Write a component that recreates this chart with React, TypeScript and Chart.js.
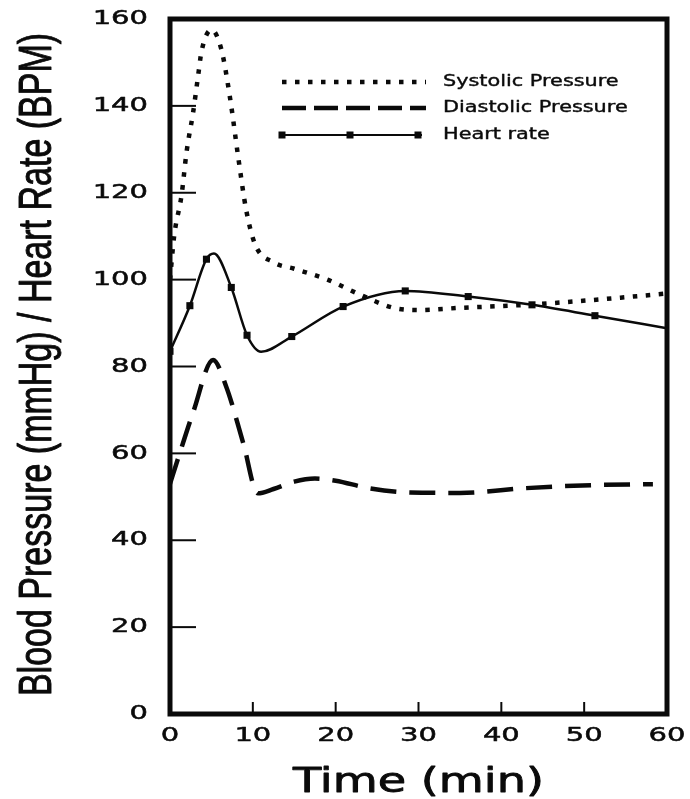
import React, { useEffect, useRef } from "react";
import { Chart, registerables } from "chart.js";

Chart.register(...registerables);

// ---- data ----
const systolicX = [0, 0.5, 1.4, 2.0, 2.8, 3.4, 3.8, 5.0, 6.2, 7.25, 8.25, 9.2, 10.3, 12.5, 15, 19, 23, 27, 30, 35, 43, 51, 60];
const systolicY = [100, 110, 119.5, 129.4, 138.6, 147, 152.5, 157.5, 153, 141.8, 128, 116, 108, 104, 102.5, 100, 96.5, 93.5, 93, 93.5, 94.2, 95.3, 96.8];

const diastolicX = [0, 1.0, 2.8, 5.2, 6.8, 8.85, 10.6, 12.5, 15, 17.5, 20, 24, 29, 35, 43, 51, 58.3];
const diastolicY = [53, 59, 69.5, 81.5, 75.3, 62.3, 50.8, 51.8, 53.5, 54.2, 53.7, 52, 51, 50.9, 52, 52.7, 52.9];

const heartX = [0, 2.4, 4.4, 5.3, 7.4, 9.3, 11, 14.7, 20.9, 28.4, 36, 43.7, 51.3, 60];
const heartY = [83.5, 94, 104.7, 106, 98.2, 87.2, 83.4, 86.9, 93.8, 97.4, 96.1, 94.2, 91.7, 88.8];
const heartMarker = [true, true, true, false, true, true, false, true, true, true, true, true, true, false];

const seriesNames = ["Systolic Pressure", "Diastolic Pressure", "Heart rate"];
const xTickValues = [0, 10, 20, 30, 40, 50, 60];
const yTickValues = [0, 20, 40, 60, 80, 100, 120, 140, 160];
const xTitle = "Time (min)";
const yTitle = "Blood Pressure (mmHg) / Heart Rate (BPM)";

const INK = "#0a0a0a";
const SYS_DASH = [4.5, 8.5];
const DIA_DASH = [26, 13];

function zip(xs: number[], ys: number[]) {
  return xs.map((x, i) => ({ x, y: ys[i] }));
}

function heavyText(ctx: any, text: string, x: number, y: number, w: number) {
  ctx.lineWidth = w;
  ctx.setLineDash([]);
  ctx.lineJoin = "round";
  ctx.strokeText(text, x, y);
  ctx.fillText(text, x, y);
}

const decorPlugin = {
  id: "decor",
  afterDraw(chart: any) {
    const { ctx, chartArea } = chart;
    const { left, right, top, bottom } = chartArea;
    const xs = chart.scales.x;
    const ys = chart.scales.y;
    ctx.save();
    ctx.strokeStyle = INK;
    ctx.fillStyle = INK;

    // inward ticks
    ctx.lineWidth = 2;
    ctx.setLineDash([]);
    yTickValues.forEach((v) => {
      if (v === yTickValues[0] || v === yTickValues[yTickValues.length - 1]) return;
      const py = ys.getPixelForValue(v);
      ctx.beginPath();
      ctx.moveTo(left, py);
      ctx.lineTo(left + 26, py);
      ctx.stroke();
    });
    xTickValues.forEach((v) => {
      if (v === xTickValues[0] || v === xTickValues[xTickValues.length - 1]) return;
      const px = xs.getPixelForValue(v);
      ctx.beginPath();
      ctx.moveTo(px, bottom);
      ctx.lineTo(px, bottom - 12);
      ctx.stroke();
    });

    // frame
    ctx.lineWidth = 5;
    ctx.lineJoin = "miter";
    ctx.strokeRect(left, top, right - left, bottom - top);

    // y tick labels
    ctx.font = "20px 'DejaVu Sans'";
    ctx.textBaseline = "middle";
    ctx.textAlign = "right";
    yTickValues.forEach((v) => {
      const py = ys.getPixelForValue(v);
      ctx.save();
      ctx.translate(148, py);
      ctx.scale(1.45, 1);
      heavyText(ctx, String(v), 0, 0, 0.5);
      ctx.restore();
    });
    // x tick labels
    ctx.textAlign = "center";
    xTickValues.forEach((v) => {
      const px = xs.getPixelForValue(v);
      ctx.save();
      ctx.translate(px, 736);
      ctx.scale(1.45, 1);
      heavyText(ctx, String(v), 0, 0, 0.5);
      ctx.restore();
    });

    // x title
    ctx.save();
    ctx.font = "33px 'DejaVu Sans'";
    ctx.translate((left + right) / 2, 783);
    ctx.scale(1.4, 1);
    heavyText(ctx, xTitle, 0, 0, 0.8);
    ctx.restore();

    // y title
    ctx.save();
    ctx.font = "34px 'Liberation Sans'";
    ctx.textBaseline = "alphabetic";
    ctx.textAlign = "center";
    ctx.translate(51, (top + bottom) / 2 - 2);
    ctx.rotate(-Math.PI / 2);
    ctx.scale(1, 1.35);
    heavyText(ctx, yTitle, 0, 0, 0.7);
    ctx.restore();

    // legend
    const lx0 = 282;
    const lx1 = 426;
    const rows = [82, 108, 135];
    ctx.lineCap = "butt";
    ctx.lineJoin = "miter";
    // systolic
    ctx.lineWidth = 4.5;
    ctx.setLineDash(SYS_DASH);
    ctx.beginPath();
    ctx.moveTo(lx0, rows[0]);
    ctx.lineTo(lx1, rows[0]);
    ctx.stroke();
    // diastolic
    ctx.lineWidth = 4.5;
    ctx.setLineDash([24, 8]);
    ctx.beginPath();
    ctx.moveTo(lx0, rows[1]);
    ctx.lineTo(lx1, rows[1]);
    ctx.stroke();
    // heart rate
    ctx.setLineDash([]);
    ctx.lineWidth = 2;
    ctx.beginPath();
    ctx.moveTo(lx0, rows[2]);
    ctx.lineTo(lx1 - 4, rows[2]);
    ctx.stroke();
    [lx0, 350, 418].forEach((mx) => {
      ctx.fillRect(mx - 3.5, rows[2] - 3.5, 7, 7);
    });
    // legend texts
    ctx.font = "16px 'DejaVu Sans'";
    ctx.textAlign = "left";
    ctx.textBaseline = "middle";
    seriesNames.forEach((name, i) => {
      ctx.save();
      ctx.translate(443, rows[i]);
      ctx.scale(1.3, 1);
      heavyText(ctx, name, 0, 0, 0.4);
      ctx.restore();
    });

    ctx.restore();
  },
};

export default function App() {
  const canvasRef = useRef<HTMLCanvasElement | null>(null);

  useEffect(() => {
    const canvas = canvasRef.current;
    if (!canvas) return;
    const chart = new Chart(canvas, {
      type: "line",
      data: {
        datasets: [
          {
            label: seriesNames[0],
            data: zip(systolicX, systolicY),
            borderColor: INK,
            borderWidth: 4.5,
            borderDash: SYS_DASH,
            borderCapStyle: "butt",
            pointRadius: 0,
            cubicInterpolationMode: "monotone",
            fill: false,
          },
          {
            label: seriesNames[1],
            data: zip(diastolicX, diastolicY),
            borderColor: INK,
            borderWidth: 4.5,
            borderDash: DIA_DASH,
            borderCapStyle: "butt",
            pointRadius: 0,
            cubicInterpolationMode: "monotone",
            fill: false,
          },
          {
            label: seriesNames[2],
            data: zip(heartX, heartY),
            borderColor: INK,
            borderWidth: 2.5,
            pointStyle: "rect",
            pointRadius: heartMarker.map((m) => (m ? 5 : 0)),
            pointBackgroundColor: INK,
            pointBorderWidth: 0,
            cubicInterpolationMode: "monotone",
            fill: false,
          },
        ],
      } as any,
      options: {
        animation: false,
        responsive: false,
        devicePixelRatio: 1,
        layout: { padding: { top: 19, right: 23, left: 0, bottom: 0 } },
        plugins: {
          legend: { display: false },
          tooltip: { enabled: false },
        },
        scales: {
          x: {
            type: "linear",
            min: 0,
            max: 60,
            ticks: { display: false, stepSize: 10 },
            grid: { display: false },
            border: { display: false },
            afterFit: (s: any) => {
              s.height = 85;
            },
          },
          y: {
            type: "linear",
            min: 0,
            max: 160,
            ticks: { display: false, stepSize: 20 },
            grid: { display: false },
            border: { display: false },
            afterFit: (s: any) => {
              s.width = 170;
            },
          },
        },
      } as any,
      plugins: [decorPlugin],
    });
    return () => chart.destroy();
  }, []);

  return (
    <div style={{ position: "fixed", left: 0, top: 0, width: 690, height: 799, background: "#fff" }}>
      <canvas ref={canvasRef} width={690} height={799} style={{ display: "block", width: 690, height: 799 }} />
    </div>
  );
}
